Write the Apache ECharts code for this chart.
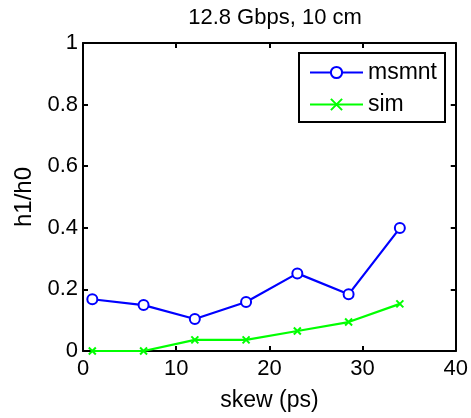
<!DOCTYPE html>
<html>
<head>
<meta charset="utf-8">
<script src="https://cdn.jsdelivr.net/npm/echarts@6/dist/echarts.min.js"></script>
<style>
html,body{margin:0;padding:0;background:#fff;}
#c{width:471px;height:418px;}
</style>
</head>
<body>
<div id="c"></div>
<script>
var titleText = '12.8 Gbps, 10 cm';
var xName = 'skew (ps)';
var yName = 'h1/h0';
var skew = [1.0, 6.5, 12.0, 17.5, 23.0, 28.5, 34.0];
var msmnt = [0.168, 0.149, 0.104, 0.159, 0.252, 0.184, 0.399];
var sim = [0.0, 0.0, 0.036, 0.036, 0.065, 0.094, 0.153];
var seriesNames = ['msmnt', 'sim'];

function pairs(xs, ys){ return xs.map(function(x,i){return [x, ys[i]];}); }

var font = 'Liberation Sans, Arial, sans-serif';
var chart = echarts.init(document.getElementById('c'), null, {renderer:'canvas'});
var axisLine = {show:true, onZero:false, lineStyle:{color:'#000', width:2}};
var tick = {show:true, inside:true, length:5, lineStyle:{color:'#000', width:2}};
chart.setOption({
  animation:false,
  backgroundColor:'#fff',
  title:{text:titleText, left:270, top:2, textAlign:'center',
    textStyle:{fontFamily:font, fontSize:22, fontWeight:'normal', color:'#000'}},
  grid:{left:83, right:14, top:43, bottom:67, containLabel:false},
  legend:{
    data:seriesNames, orient:'vertical', left:299, top:53,
    itemWidth:53, itemHeight:14, itemGap:9,
    padding:[8,8,6,10],
    borderColor:'#000', borderWidth:2, backgroundColor:'#fff',
    textStyle:{fontFamily:font, fontSize:23, color:'#000'}
  },
  xAxis:[{
    type:'value', min:0, max:40, interval:10, position:'bottom',
    name:xName, nameLocation:'middle', nameGap:38,
    nameTextStyle:{fontFamily:font, fontSize:23, color:'#000'},
    axisLine:axisLine, axisTick:tick,
    axisLabel:{fontFamily:font, fontSize:22, color:'#000', margin:7},
    splitLine:{show:false}
  },{
    type:'value', min:0, max:40, interval:10, position:'top',
    axisLine:axisLine, axisTick:tick, axisLabel:{show:false}, splitLine:{show:false}
  }],
  yAxis:[{
    type:'value', min:0, max:1, interval:0.2, position:'left',
    name:yName, nameLocation:'middle', nameGap:47, nameRotate:90,
    nameTextStyle:{fontFamily:font, fontSize:24, color:'#000'},
    axisLine:axisLine, axisTick:tick,
    axisLabel:{fontFamily:font, fontSize:22, color:'#000', margin:5,
      formatter:function(v){return v===0?'0':(v===1?'1':v.toFixed(1));}},
    splitLine:{show:false}
  },{
    type:'value', min:0, max:1, interval:0.2, position:'right',
    axisLine:axisLine, axisTick:tick, axisLabel:{show:false}, splitLine:{show:false}
  }],
  series:[{
    name:seriesNames[0], type:'line', data:pairs(skew, msmnt),
    symbol:'emptyCircle', symbolSize:10,
    lineStyle:{color:'#0000ff', width:2.2},
    itemStyle:{color:'#0000ff', borderColor:'#0000ff', borderWidth:1.5}
  },{
    name:seriesNames[1], type:'line', data:pairs(skew, sim),
    symbol:'path://M0,0L10,10M10,0L0,10', symbolSize:7,
    lineStyle:{color:'#00ff00', width:2.2},
    itemStyle:{color:'#00ff00', borderColor:'#00ff00', borderWidth:2}
  }]
});
</script>
</body>
</html>
